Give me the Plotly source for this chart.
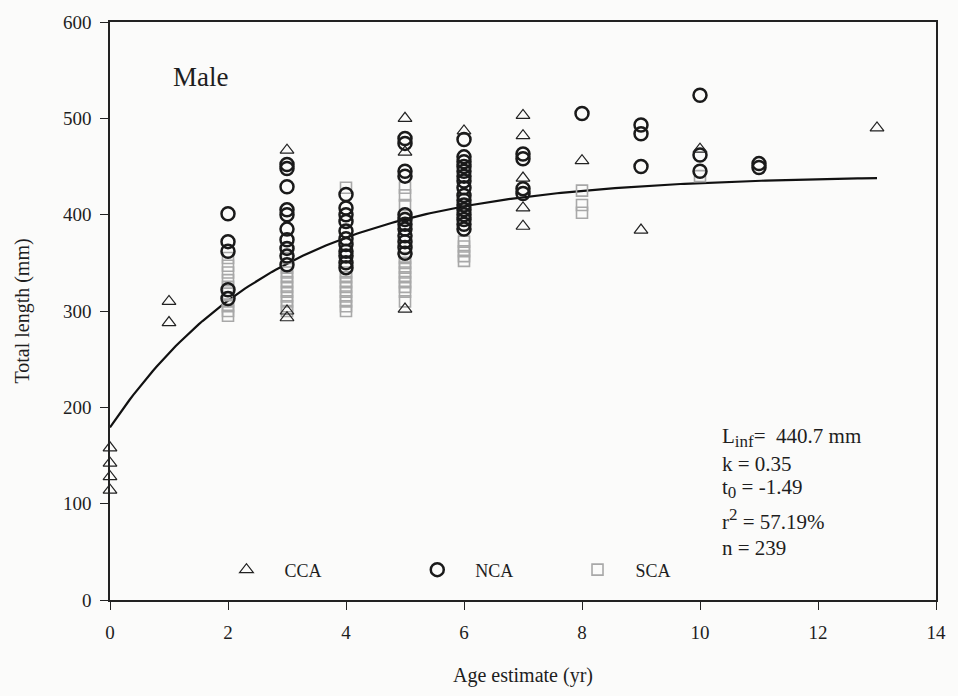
import numpy as np
import plotly.graph_objects as go

# Observed total length (mm) by age (yr), per region
cca_age = [0, 0, 0, 0, 1, 1, 3, 3, 3, 5, 5, 5, 6, 7, 7, 7, 7, 7, 8, 9, 10, 13]
cca_len = [158, 142, 128, 114, 310, 288, 467, 300, 293, 500, 465, 302, 487,
           503, 482, 438, 407, 388, 456, 384, 468, 490]

nca_age = ([2] * 5 + [3] * 10 + [4] * 11 + [5] * 12 + [6] * 16 + [7] * 4
           + [8] + [9] * 3 + [10] * 3 + [11] * 2)
nca_len = [401, 372, 362, 322, 313,
           452, 448, 429, 405, 400, 385, 374, 365, 357, 348,
           421, 407, 400, 393, 383, 375, 369, 362, 357, 350, 345,
           479, 474, 445, 440, 400, 395, 390, 385, 378, 372, 366, 360,
           478, 460, 455, 450, 445, 440, 435, 428, 420, 415, 410, 405, 400, 395, 390, 385,
           463, 458, 427, 422,
           505,
           493, 484, 450,
           524, 462, 445,
           453, 449]

sca_age = ([2] * 10 + [3] * 12 + [4] * 10 + [5] * 12 + [6] * 5 + [8] * 3 + [10])
sca_len = [295, 300, 305, 310, 318, 325, 332, 340, 347, 355,
           300, 305, 310, 315, 320, 325, 330, 335, 340, 345, 355, 365,
           300, 305, 310, 315, 320, 325, 330, 335, 340, 428,
           310, 320, 325, 330, 335, 340, 345, 350, 355, 410, 420, 428,
           352, 357, 362, 367, 372,
           425, 410, 402,
           440]

# von Bertalanffy growth parameters
L_inf = 440.7
k = 0.35
t0 = -1.49
r2 = 57.19
n_fish = 239

t_fit = np.linspace(0, 13, 200)
L_fit = L_inf * (1 - np.exp(-k * (t_fit - t0)))

serif = "Liberation Serif, Times New Roman, serif"
ink = "#1e1e1e"
nb = "\u00a0"

fig = go.Figure()

fig.add_trace(go.Scatter(
    x=t_fit, y=L_fit, mode="lines", line=dict(color="#111111", width=2.2),
    showlegend=False, hoverinfo="skip", cliponaxis=False))

fig.add_trace(go.Scatter(
    x=sca_age, y=sca_len, mode="markers", name=nb * 4 + "SCA", legend="legend3",
    marker=dict(symbol="square-open", size=11, color="#a8a8a8",
                line=dict(width=1.6, color="#a8a8a8")),
    cliponaxis=False))

fig.add_trace(go.Scatter(
    x=nca_age, y=nca_len, mode="markers", name=nb * 4 + "NCA", legend="legend2",
    marker=dict(symbol="circle-open", size=13, color="#1a1a1a",
                line=dict(width=2.5, color="#1a1a1a")),
    cliponaxis=False))

fig.add_trace(go.Scatter(
    x=cca_age, y=cca_len, mode="markers", name=nb * 4 + "CCA", legend="legend",
    marker=dict(symbol="triangle-up-open", size=12, color="#222222",
                line=dict(width=1.2, color="#222222")),
    cliponaxis=False))

legend_common = dict(orientation="h", yanchor="middle", xanchor="left",
                     bgcolor="rgba(0,0,0,0)",
                     font=dict(family=serif, size=18, color=ink))

stat_font = dict(family=serif, size=21, color=ink)
sub_style = "font-size:17px"
stat_x = 0.738
stat_lines = [
    (0.281, f"L<sub><span style='{sub_style}'>inf</span></sub>=  {L_inf} mm"),
    (0.236, f"k = {k:.2f}"),
    (0.193, f"t<sub><span style='{sub_style}'>0</span></sub> = {t0}"),
    (0.139, f"r<sup><span style='{sub_style}'>2</span></sup> = {r2}%"),
    (0.090, f"n = {n_fish}"),
]
annotations = [
    dict(x=0.110, y=0.905, xref="paper", yref="paper", xanchor="center",
         yanchor="middle", text="Male", showarrow=False,
         font=dict(family=serif, size=27, color=ink)),
]
for yy, txt in stat_lines:
    annotations.append(dict(x=stat_x, y=yy, xref="paper", yref="paper",
                            xanchor="left", yanchor="middle", text=txt,
                            showarrow=False, font=stat_font))

fig.update_layout(
    width=958, height=696,
    margin=dict(l=110, r=18, t=20, b=96),
    paper_bgcolor="#fbfbfa", plot_bgcolor="#fbfbfa",
    font=dict(family=serif, size=18, color=ink),
    legend=dict(x=0.141, y=0.052, **legend_common),
    legend2=dict(x=0.372, y=0.052, **legend_common),
    legend3=dict(x=0.566, y=0.052, **legend_common),
    annotations=annotations,
    xaxis=dict(range=[0, 14], tickvals=[0, 2, 4, 6, 8, 10, 12, 14],
               showgrid=False, zeroline=False, showline=True, mirror=True,
               linecolor="#222222", linewidth=1.5, ticks="outside", ticklen=8,
               tickcolor="#222222", ticklabelstandoff=6,
               tickfont=dict(family=serif, size=19, color=ink),
               title=dict(text="Age estimate (yr)", standoff=26,
                          font=dict(family=serif, size=20, color=ink))),
    yaxis=dict(range=[0, 600], tickvals=[0, 100, 200, 300, 400, 500, 600],
               showgrid=False, zeroline=False, showline=True, mirror=True,
               linecolor="#222222", linewidth=1.5, ticks="outside", ticklen=8,
               tickcolor="#222222", ticklabelstandoff=5,
               tickfont=dict(family=serif, size=19, color=ink),
               title=dict(text="Total length (mm)", standoff=28,
                          font=dict(family=serif, size=20, color=ink))),
)

fig.write_html("out.html")
